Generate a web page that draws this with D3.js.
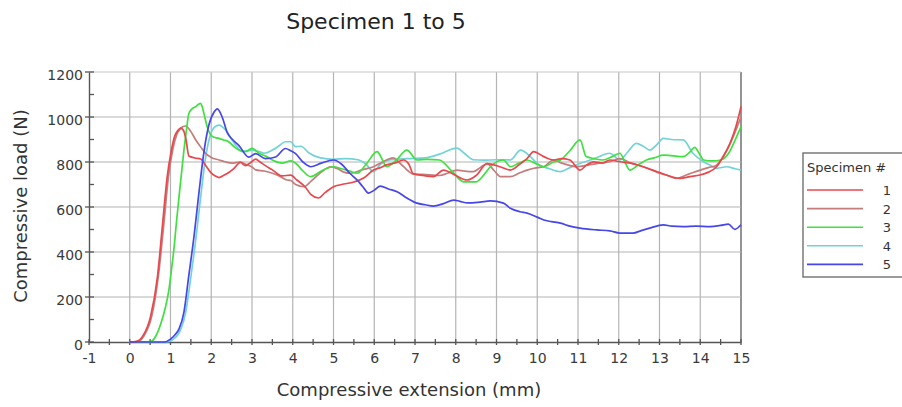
<!DOCTYPE html>
<html>
<head>
<meta charset="utf-8">
<script src="https://cdn.jsdelivr.net/npm/d3@7"></script>
<style>
  html, body { margin: 0; padding: 0; background: #fff; }
  svg { display: block; }
  text { font-family: "DejaVu Sans", Verdana, sans-serif; }
</style>
</head>
<body>
<div id="chart"></div>
<script>
// Compressive load (N) versus compressive extension (mm), one array per specimen: [extension, load]
const specimen1 = [[0,0],[0.15,2],[0.31,24],[0.51,113],[0.68,290],[0.8,513],[0.92,735],[1.02,850],[1.1,913],[1.18,940],[1.25,951],[1.32,940],[1.38,900],[1.45,827],[1.6,818],[1.74,813],[1.88,780],[1.99,753],[2.1,738],[2.19,731],[2.3,740],[2.43,753],[2.55,770],[2.72,798],[2.84,784],[2.95,795],[3.09,813],[3.2,800],[3.33,784],[3.5,765],[3.74,738],[3.95,742],[4.1,720],[4.3,690],[4.45,655],[4.63,640],[4.8,665],[5.0,690],[5.2,700],[5.5,711],[5.75,730],[5.98,764],[6.15,775],[6.3,787],[6.5,795],[6.72,809],[6.85,790],[6.96,747],[7.2,740],[7.45,735],[7.7,764],[7.95,745],[8.28,720],[8.5,740],[8.77,793],[9.1,778],[9.34,764],[9.59,793],[9.75,815],[9.91,846],[10.16,824],[10.4,809],[10.6,815],[10.8,809],[11.05,764],[11.2,785],[11.38,801],[11.6,795],[11.78,809],[12.03,801],[12.3,795],[12.6,779],[12.9,760],[13.17,742],[13.5,727],[13.75,735],[13.99,742],[14.2,755],[14.4,779],[14.55,820],[14.73,883],[14.88,960],[15.0,1046]];
const specimen2 = [[0,0],[0.2,3],[0.35,28],[0.54,115],[0.7,290],[0.83,513],[0.95,735],[1.06,860],[1.15,920],[1.25,950],[1.37,960],[1.5,935],[1.62,898],[1.75,865],[1.86,838],[2.0,820],[2.19,809],[2.35,800],[2.51,795],[2.7,800],[2.84,790],[3.0,778],[3.09,765],[3.3,760],[3.5,750],[3.7,735],[3.84,721],[3.95,718],[4.07,700],[4.27,690],[4.45,715],[4.7,755],[4.93,779],[5.1,770],[5.25,755],[5.42,750],[5.7,765],[5.98,779],[6.2,800],[6.47,818],[6.6,800],[6.72,779],[6.96,747],[7.2,745],[7.6,740],[7.8,750],[8.03,764],[8.2,760],[8.43,757],[8.6,775],[8.77,793],[8.95,760],[9.1,735],[9.34,735],[9.55,750],[9.75,764],[10.0,775],[10.16,779],[10.4,809],[10.6,795],[11.0,779],[11.2,785],[11.46,793],[11.75,800],[12.03,815],[12.3,795],[12.6,779],[12.8,765],[13.0,750],[13.2,740],[13.4,727],[13.7,745],[14.0,764],[14.2,775],[14.4,786],[14.55,820],[14.7,868],[14.85,930],[15.0,1001]];
const specimen3 = [[0,0],[0.3,0],[0.51,2],[0.65,30],[0.76,80],[0.87,150],[0.96,231],[1.03,330],[1.09,424],[1.15,540],[1.21,647],[1.27,750],[1.33,853],[1.39,940],[1.45,1016],[1.52,1035],[1.62,1046],[1.7,1058],[1.74,1061],[1.78,1045],[1.82,1016],[1.9,957],[2.03,913],[2.19,905],[2.3,898],[2.43,890],[2.55,870],[2.68,853],[2.84,846],[3.0,861],[3.17,839],[3.35,825],[3.5,809],[3.74,795],[3.95,805],[4.1,790],[4.25,760],[4.44,735],[4.7,760],[5.0,779],[5.2,770],[5.4,760],[5.58,750],[5.8,790],[6.07,846],[6.2,810],[6.3,779],[6.55,810],[6.8,853],[7.05,809],[7.3,812],[7.6,809],[7.9,760],[8.2,712],[8.5,712],[8.7,745],[8.85,779],[9.17,809],[9.34,779],[9.55,795],[9.75,809],[10.0,790],[10.16,779],[10.4,800],[10.57,809],[10.8,850],[11.05,898],[11.2,824],[11.4,815],[11.6,809],[11.85,825],[12.03,839],[12.15,800],[12.27,764],[12.5,790],[12.68,809],[12.9,820],[13.09,831],[13.3,828],[13.58,824],[13.75,845],[13.86,865],[14.0,830],[14.08,809],[14.3,805],[14.5,809],[14.7,840],[14.85,895],[15.0,957]];
const specimen4 = [[0,0],[0.5,0],[0.9,0],[1.05,10],[1.25,55],[1.37,130],[1.5,290],[1.63,470],[1.75,660],[1.87,830],[1.98,920],[2.08,955],[2.19,964],[2.35,942],[2.51,898],[2.62,870],[2.76,846],[3.0,853],[3.2,845],[3.3,839],[3.5,853],[3.65,870],[3.82,890],[3.95,890],[4.07,868],[4.2,870],[4.4,840],[4.68,818],[5.0,812],[5.3,815],[5.6,810],[5.8,790],[5.98,757],[6.15,790],[6.4,810],[6.8,815],[7.25,818],[7.6,835],[8.03,862],[8.2,840],[8.43,810],[8.7,808],[9.0,810],[9.34,809],[9.59,853],[9.83,824],[10.0,793],[10.3,770],[10.57,757],[10.8,775],[11.05,793],[11.4,815],[11.78,839],[12.03,809],[12.2,840],[12.43,883],[12.6,870],[12.76,853],[12.95,880],[13.09,905],[13.3,900],[13.58,898],[13.82,839],[14.08,801],[14.25,785],[14.4,772],[14.65,779],[14.85,770],[15.0,764]];
const specimen5 = [[0,0],[0.5,0],[0.85,0],[1.0,13],[1.1,30],[1.21,58],[1.33,133],[1.45,296],[1.58,474],[1.7,667],[1.82,844],[1.94,963],[2.07,1022],[2.15,1036],[2.27,999],[2.39,932],[2.51,902],[2.68,873],[2.92,822],[3.09,837],[3.33,815],[3.58,822],[3.82,860],[3.95,850],[4.07,837],[4.25,800],[4.44,779],[4.7,795],[5.0,809],[5.2,790],[5.4,750],[5.58,720],[5.72,690],[5.86,662],[6.0,675],[6.15,693],[6.35,680],[6.56,668],[6.8,640],[7.05,617],[7.25,610],[7.45,604],[7.7,615],[7.95,631],[8.1,625],[8.3,618],[8.6,622],[8.85,627],[9.17,617],[9.34,594],[9.58,579],[9.75,573],[10.0,555],[10.16,542],[10.35,535],[10.57,528],[10.8,515],[11.05,506],[11.46,498],[11.78,494],[12.03,484],[12.35,484],[12.55,495],[12.76,506],[13.09,521],[13.3,515],[13.58,513],[13.9,515],[14.24,513],[14.5,518],[14.69,524],[14.85,501],[15.0,521]];

const specimenNames = ["1", "2", "3", "4", "5"];
const specimenColors = ["#e8474c", "#c47c7c", "#3fe03f", "#72d3d6", "#4646ea"];
const xTicks = d3.range(-1, 16, 1);
const yTicks = d3.range(0, 1201, 200);

const title = "Specimen 1 to 5";
const xTitle = "Compressive extension (mm)";
const yTitle = "Compressive load (N)";
const legendTitle = "Specimen #";

const W = 902, H = 407;
const plot = { left: 89, right: 741, top: 72, bottom: 342 };

const svg = d3.select("#chart").append("svg")
  .attr("width", W).attr("height", H);
svg.append("rect").attr("width", W).attr("height", H).attr("fill", "#fff");

const x = d3.scaleLinear().domain([-1, 15]).range([plot.left, plot.right]);
const y = d3.scaleLinear().domain([0, 1200]).range([plot.bottom, plot.top]);

// grid
const grid = svg.append("g");
grid.selectAll("line.v").data(xTicks.filter(d => d > -1)).join("line")
  .attr("x1", d => x(d)).attr("x2", d => x(d))
  .attr("y1", plot.top).attr("y2", plot.bottom)
  .attr("stroke", d => d === 15 ? "#666" : "#b4b4b4").attr("stroke-width", d => d === 15 ? 1.4 : 1.2);
grid.selectAll("line.h").data(yTicks.filter(d => d > 0)).join("line")
  .attr("x1", plot.left).attr("x2", plot.right)
  .attr("y1", d => y(d)).attr("y2", d => y(d))
  .attr("stroke", d => d === 1200 ? "#c8c8c8" : "#b4b4b4").attr("stroke-width", 1.2);

// axes (plain hyphen minus, no thousands separator)
const plain = d => String(d);
const xAxis = d3.axisBottom(x).tickValues(xTicks).tickSize(0).tickPadding(11).tickFormat(plain);
const gx = svg.append("g").attr("transform", `translate(0,${plot.bottom})`).call(xAxis);
gx.select(".domain").attr("stroke", "#555").attr("stroke-width", 1.4);
gx.selectAll("text").attr("font-size", 14).attr("fill", "#3a3a3a");

const yAxis = d3.axisLeft(y).tickValues(yTicks).tickSize(0).tickPadding(6).tickFormat(plain);
const gy = svg.append("g").attr("transform", `translate(${plot.left},0)`).call(yAxis);
gy.select(".domain").attr("stroke", "#555").attr("stroke-width", 1.4);
gy.selectAll("text").attr("font-size", 14).attr("fill", "#3a3a3a").attr("dy", "0.55em");

// tick marks: x every 0.5 mm across the axis, y every 100 N
svg.append("g").selectAll("line").data(d3.range(-1, 15.01, 0.5)).join("line")
  .attr("x1", d => x(d)).attr("x2", d => x(d))
  .attr("y1", plot.bottom - 3).attr("y2", plot.bottom + 3)
  .attr("stroke", "#555").attr("stroke-width", 1.3);
svg.append("g").selectAll("line").data(d3.range(0, 1201, 100)).join("line")
  .attr("x1", d => d % 200 === 0 ? plot.left - 4 : plot.left)
  .attr("x2", plot.left + 5)
  .attr("y1", d => y(d)).attr("y2", d => y(d))
  .attr("stroke", "#555").attr("stroke-width", 1.3);

// curves
const line = d3.line().x(d => x(d[0])).y(d => y(d[1])).curve(d3.curveMonotoneX);
const specimens = [specimen1, specimen2, specimen3, specimen4, specimen5];
const drawOrder = [3, 1, 2, 0, 4];
svg.append("g").selectAll("path").data(drawOrder).join("path")
  .attr("d", i => line(specimens[i]))
  .attr("fill", "none")
  .attr("stroke", i => specimenColors[i])
  .attr("stroke-width", 1.7)
  .attr("stroke-linejoin", "round");

// titles
svg.append("text").attr("x", 376).attr("y", 29).attr("text-anchor", "middle")
  .attr("font-size", 22).attr("fill", "#222").text(title);
svg.append("text").attr("x", 409).attr("y", 396).attr("text-anchor", "middle")
  .attr("font-size", 18).attr("fill", "#333").text(xTitle);
svg.append("text").attr("transform", "translate(27,206) rotate(-90)")
  .attr("text-anchor", "middle").attr("font-size", 18).attr("fill", "#333").text(yTitle);

// legend
const lg = svg.append("g").attr("transform", "translate(803,153)");
lg.append("rect").attr("width", 110).attr("height", 124)
  .attr("fill", "#fff").attr("stroke", "#666").attr("stroke-width", 1.3);
lg.append("text").attr("x", 4).attr("y", 19).attr("font-size", 13).attr("fill", "#333").text(legendTitle);
const items = lg.selectAll("g.item").data(specimenNames).join("g")
  .attr("transform", (d, i) => `translate(0,${37 + i * 18.6})`);
items.append("line").attr("x1", 4).attr("x2", 60).attr("y1", 0).attr("y2", 0)
  .attr("stroke", (d, i) => specimenColors[i]).attr("stroke-width", 1.6);
items.append("text").attr("x", 84).attr("y", 5).attr("text-anchor", "middle")
  .attr("font-size", 13).attr("fill", "#333").text(d => d);
</script>
</body>
</html>
